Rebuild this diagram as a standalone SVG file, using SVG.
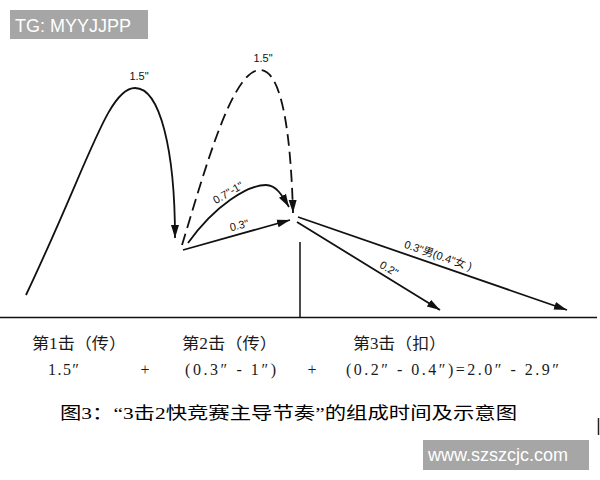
<svg xmlns="http://www.w3.org/2000/svg" width="600" height="480" viewBox="0 0 600 480">
<style>
.ln{fill:none;stroke:#111;stroke-width:1.8}
.dash{stroke-dasharray:12 6}
.lbl{font-family:"Liberation Sans","Noto Sans CJK SC",sans-serif;font-size:11px;fill:#111;text-anchor:middle}
.cn{font-family:"Liberation Serif","Noto Sans CJK SC",serif;font-size:16px;fill:#1a1a1a}
.wm{font-family:"Liberation Sans",Arial,sans-serif;font-size:18px;fill:#fff}
</style>
<defs>
<marker id="ah" markerUnits="userSpaceOnUse" markerWidth="14" markerHeight="10" refX="13" refY="4" orient="auto" viewBox="0 0 14 8">
<path d="M0,0 L13,4 L0,8 Z" fill="#111"/>
</marker>
</defs>
<rect width="600" height="480" fill="#fff"/>
<g id="tag-tg"><rect x="10" y="10" width="138" height="29" fill="#a6a6a6"/><text class="wm" x="15" y="32">TG: MYYJJPP</text></g>
<g id="axis">
<line class="ln" x1="0" y1="317.5" x2="597" y2="317.5" style="stroke-width:1.5"/>
<line class="ln" x1="300" y1="242" x2="300" y2="317" style="stroke-width:1.5"/>
</g>
<g id="connectors">
<path id="hit1" class="ln" d="M26,295 C90,160 108,88 135,88 C160,88 175,150 175,238" marker-end="url(#ah)"/>
<path id="hit2-slow" class="ln dash" d="M182,245 C205,170 232,70 260,70 C283,70 291,140 293,213" marker-end="url(#ah)"/>
<path id="hit2-mid" class="ln" d="M188,243 C215,205 248,185 266,185 C276,185 282,195 289,207" marker-end="url(#ah)"/>
<path id="hit2-fast" class="ln" d="M183,250 L290,220" marker-end="url(#ah)"/>
<path id="hit3-a" class="ln" d="M297,222 L440,310" marker-end="url(#ah)"/>
<path id="hit3-b" class="ln" d="M298,217 L567,310" marker-end="url(#ah)"/>
</g>
<g id="labels">
<text class="lbl" x="139" y="80">1.5"</text>
<text class="lbl" x="263" y="62">1.5"</text>
<text class="lbl" transform="translate(230,196) rotate(-30)">0.7"-1"</text>
<text class="lbl" transform="translate(240,229) rotate(-13)">0.3"</text>
<text class="lbl" transform="translate(387,272) rotate(31)">0.2"</text>
<text class="lbl" transform="translate(437,259) rotate(19)">0.3"男(0.4"女 )</text>
</g>
<g id="table">
<text class="cn" x="32" y="349" textLength="94" lengthAdjust="spacingAndGlyphs">第1击（传）</text>
<text class="cn" x="182" y="349" textLength="95" lengthAdjust="spacingAndGlyphs">第2击（传）</text>
<text class="cn" x="353" y="349" textLength="93" lengthAdjust="spacingAndGlyphs">第3击（扣）</text>
<text class="cn" x="48" y="375" textLength="31" lengthAdjust="spacing">1.5″</text>
<text class="cn" x="145" y="375" text-anchor="middle">+</text>
<text class="cn" x="185" y="375" textLength="91" lengthAdjust="spacing">(0.3″ - 1″)</text>
<text class="cn" x="312" y="375" text-anchor="middle">+</text>
<text class="cn" x="346" y="375" textLength="213" lengthAdjust="spacing">(0.2″ - 0.4″)=2.0″ - 2.9″</text>
</g>
<g id="caption">
<text class="cn" x="60" y="419" style="font-size:17px;fill:#000" textLength="457" lengthAdjust="spacingAndGlyphs">图3：“3击2快竞赛主导节奏”的组成时间及示意图</text>
<line x1="598.5" y1="418" x2="598.5" y2="435" stroke="#222" stroke-width="1.5"/>
</g>
<g id="tag-site"><rect x="423" y="440" width="166" height="30" fill="#a6a6a6"/><text class="wm" x="428" y="461">www.szszcjc.com</text></g>
</svg>
